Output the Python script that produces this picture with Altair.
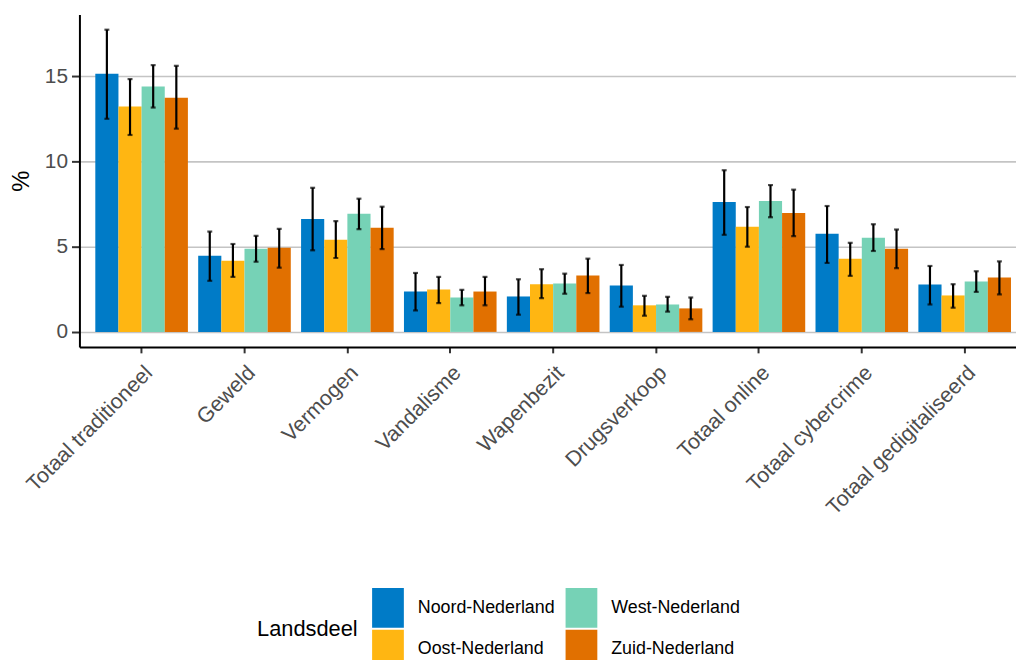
import altair as alt
import pandas as pd

categories = ["Totaal traditioneel", "Geweld", "Vermogen", "Vandalisme", "Wapenbezit",
              "Drugsverkoop", "Totaal online", "Totaal cybercrime", "Totaal gedigitaliseerd"]
regions = ["Noord-Nederland", "Oost-Nederland", "West-Nederland", "Zuid-Nederland"]
colors = ["#007BC7", "#FFB612", "#76D2B6", "#E17000"]

noord = [15.16, 4.47, 6.63, 2.37, 2.08, 2.72, 7.63, 5.76, 2.78]
noord_lo = [12.51, 3.00, 4.79, 1.26, 1.01, 1.48, 5.70, 4.05, 1.61]
noord_hi = [17.74, 5.89, 8.46, 3.46, 3.09, 3.93, 9.49, 7.39, 3.87]
oost = [13.23, 4.18, 5.41, 2.49, 2.80, 1.56, 6.17, 4.30, 2.14]
oost_lo = [11.56, 3.23, 4.34, 1.69, 1.98, 0.95, 5.00, 3.29, 1.42]
oost_hi = [14.84, 5.16, 6.50, 3.23, 3.68, 2.12, 7.33, 5.23, 2.80]
west = [14.40, 4.88, 6.93, 2.02, 2.84, 1.61, 7.68, 5.53, 2.96]
west_lo = [13.17, 4.12, 6.03, 1.56, 2.24, 1.19, 6.73, 4.75, 2.35]
west_hi = [15.66, 5.64, 7.82, 2.47, 3.42, 2.06, 8.62, 6.32, 3.56]
zuid = [13.75, 4.94, 6.11, 2.37, 3.31, 1.38, 6.98, 4.88, 3.19]
zuid_lo = [11.93, 3.77, 4.86, 1.56, 2.28, 0.74, 5.62, 3.74, 2.20]
zuid_hi = [15.62, 6.05, 7.35, 3.23, 4.30, 2.02, 8.35, 6.01, 4.14]

series = {
    "Noord-Nederland": (noord, noord_lo, noord_hi),
    "Oost-Nederland": (oost, oost_lo, oost_hi),
    "West-Nederland": (west, west_lo, west_hi),
    "Zuid-Nederland": (zuid, zuid_lo, zuid_hi),
}
rows = []
for reg, (v, lo, hi) in series.items():
    for i, c in enumerate(categories):
        rows.append({"Categorie": c, "Landsdeel": reg, "Waarde": v[i], "lo": lo[i], "hi": hi[i]})
df = pd.DataFrame(rows)

xscale = alt.Scale(paddingInner=0.1, paddingOuter=0.1015, align=0.76)
x = alt.X("Categorie:N", sort=categories, scale=xscale,
          axis=alt.Axis(title=None, labelAngle=-45, labelAlign="right", labelBaseline="top",
                        labelFontSize=21.5, labelColor="#4D4D4D", labelPadding=9,
                        tickColor="#333333", tickSize=6, tickWidth=2,
                        domainColor="black", domainWidth=2, grid=False, labelLimit=400))
xo = alt.XOffset("Landsdeel:N", sort=regions, scale=alt.Scale(paddingInner=0, paddingOuter=0))
yscale = alt.Scale(domain=[-0.88, 18.63], nice=False, zero=False)
y = alt.Y("Waarde:Q", scale=yscale,
          axis=alt.Axis(title="%", values=[0, 5, 10, 15], labelFontSize=21, labelColor="#4D4D4D",
                        labelPadding=4, tickColor="#333333", tickSize=8, tickWidth=2,
                        domainColor="black", domainWidth=2, grid=True, gridColor="#C4C4C4",
                        gridWidth=1.6, titleFontSize=24, titleFontWeight="normal",
                        titleColor="black", titlePadding=11))

bars = alt.Chart(df).mark_bar().encode(
    x=x, xOffset=xo, y=y,
    color=alt.Color("Landsdeel:N",
                    scale=alt.Scale(domain=regions, range=colors),
                    legend=alt.Legend(orient="none", legendX=179, legendY=578, columns=2,
                                      title="Landsdeel", titleOrient="left", titleFontSize=22,
                                      titleFontWeight="normal", titleColor="black",
                                      titlePadding=10, titleAnchor="middle", titleBaseline="middle",
                                      labelFontSize=18, labelColor="black", labelOffset=10,
                                      symbolType="M-0.8,-1H0.8V1H-0.8Z", symbolSize=1600,
                                      symbolStrokeWidth=0, symbolOpacity=1,
                                      rowPadding=2, columnPadding=6)),
)

rules = alt.Chart(df).mark_rule(color="black", strokeWidth=2.2).encode(
    x=alt.X("Categorie:N", sort=categories, scale=xscale), xOffset=xo,
    y=alt.Y("lo:Q", scale=yscale), y2="hi:Q")
cap_lo = alt.Chart(df).mark_tick(color="black", size=5, thickness=2.2).encode(
    x=alt.X("Categorie:N", sort=categories, scale=xscale), xOffset=xo,
    y=alt.Y("lo:Q", scale=yscale))
cap_hi = alt.Chart(df).mark_tick(color="black", size=5, thickness=2.2).encode(
    x=alt.X("Categorie:N", sort=categories, scale=xscale), xOffset=xo,
    y=alt.Y("hi:Q", scale=yscale))

chart = alt.layer(bars, rules, cap_lo, cap_hi).properties(
    width=944, height=335,
    padding={"left": 72, "top": 4, "right": 0, "bottom": 313},
    autosize=alt.AutoSizeParams(type="none"),
).configure(font="Liberation Sans").configure_view(stroke=None)

chart.save("out.html", embed_options={"renderer": "svg", "actions": False})
